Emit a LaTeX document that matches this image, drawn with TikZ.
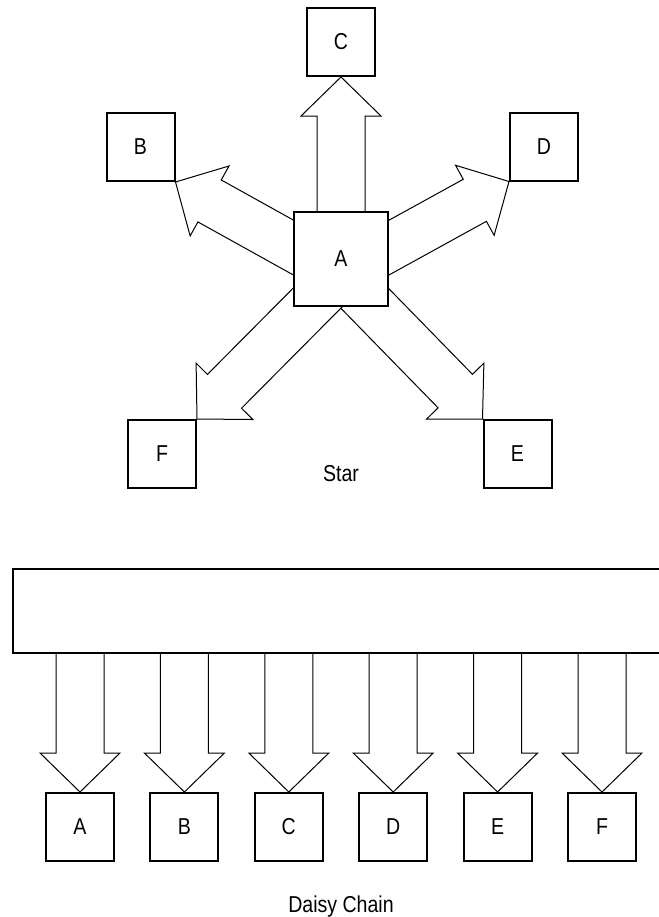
\documentclass[tikz,border=0pt]{standalone}
\usepackage{fontspec}
\setmainfont{Liberation Sans}[FakeStretch=0.85]
\usetikzlibrary{calc,backgrounds}

% block arrow, shaft from #1, tip at #2
\newcommand{\fatarrow}[2]{%
  \draw[fat_arrow] let \p1=($(#2)-(#1)$), \n1={atan2(\y1,\x1)}, \n2={veclen(\x1,\y1)-29.25pt} in
    ($(#1)+(\n1+90:18pt)$) -- ($(#1)+(\n1:\n2)+(\n1+90:18pt)$)
    -- ($(#1)+(\n1:\n2)+(\n1+90:30pt)$) -- (#2)
    -- ($(#1)+(\n1:\n2)+(\n1-90:30pt)$) -- ($(#1)+(\n1:\n2)+(\n1-90:18pt)$)
    -- ($(#1)+(\n1-90:18pt)$) -- cycle;}

\begin{document}
\begin{tikzpicture}[
    x=0.75pt, y=0.75pt,
    font=\fontsize{17.25}{20}\selectfont,
    device/.style={rectangle, draw, fill=white, line width=1.5pt, minimum size=51pt, inner sep=0pt},
    hub_device/.style={device, minimum size=70.5pt},
    fat_arrow/.style={draw, fill=white, line width=0.75pt},
    bus_line/.style={draw, line width=1.5pt},
    caption/.style={anchor=base} % titles under the two layouts
]
\useasboundingbox (0,0) rectangle (659,-917);

% star
\node[hub_device] (star_A) at (341,-258.5) {A};
\node[device] (star_B) at (140.5,-147) {B};
\node[device] (star_C) at (341,-42) {C};
\node[device] (star_D) at (544,-146.5) {D};
\node[device] (star_E) at (517.5,-454) {E};
\node[device] (star_F) at (162,-454) {F};
\coordinate (hub) at (341,-274);
\node[caption] (star_title) at (341,-481) {Star};

\begin{pgfonlayer}{background}
  \fatarrow{hub}{star_C.south}
  \fatarrow{hub}{star_B.south east}
  \fatarrow{hub}{star_D.south west}
  \fatarrow{hub}{star_E.north west}
  \fatarrow{hub}{star_F.north east}
\end{pgfonlayer}

% daisy chain
\draw[bus_line] (659,-569) -- (13,-569) -- (13,-653) -- (659,-653);
\coordinate (bus) at (13,-653);
\foreach \lbl [count=\i from 0] in {A,...,F} {
  \node[device] (chain_\lbl) at (80+104.4*\i,-827) {\lbl};
  \coordinate (bus_\lbl) at (chain_\lbl.north |- bus);
  \begin{pgfonlayer}{background}
    \fatarrow{bus_\lbl}{chain_\lbl.north}
  \end{pgfonlayer}
}
\node[caption] (chain_title) at (341,-912) {Daisy Chain};
\end{tikzpicture}
\end{document}
